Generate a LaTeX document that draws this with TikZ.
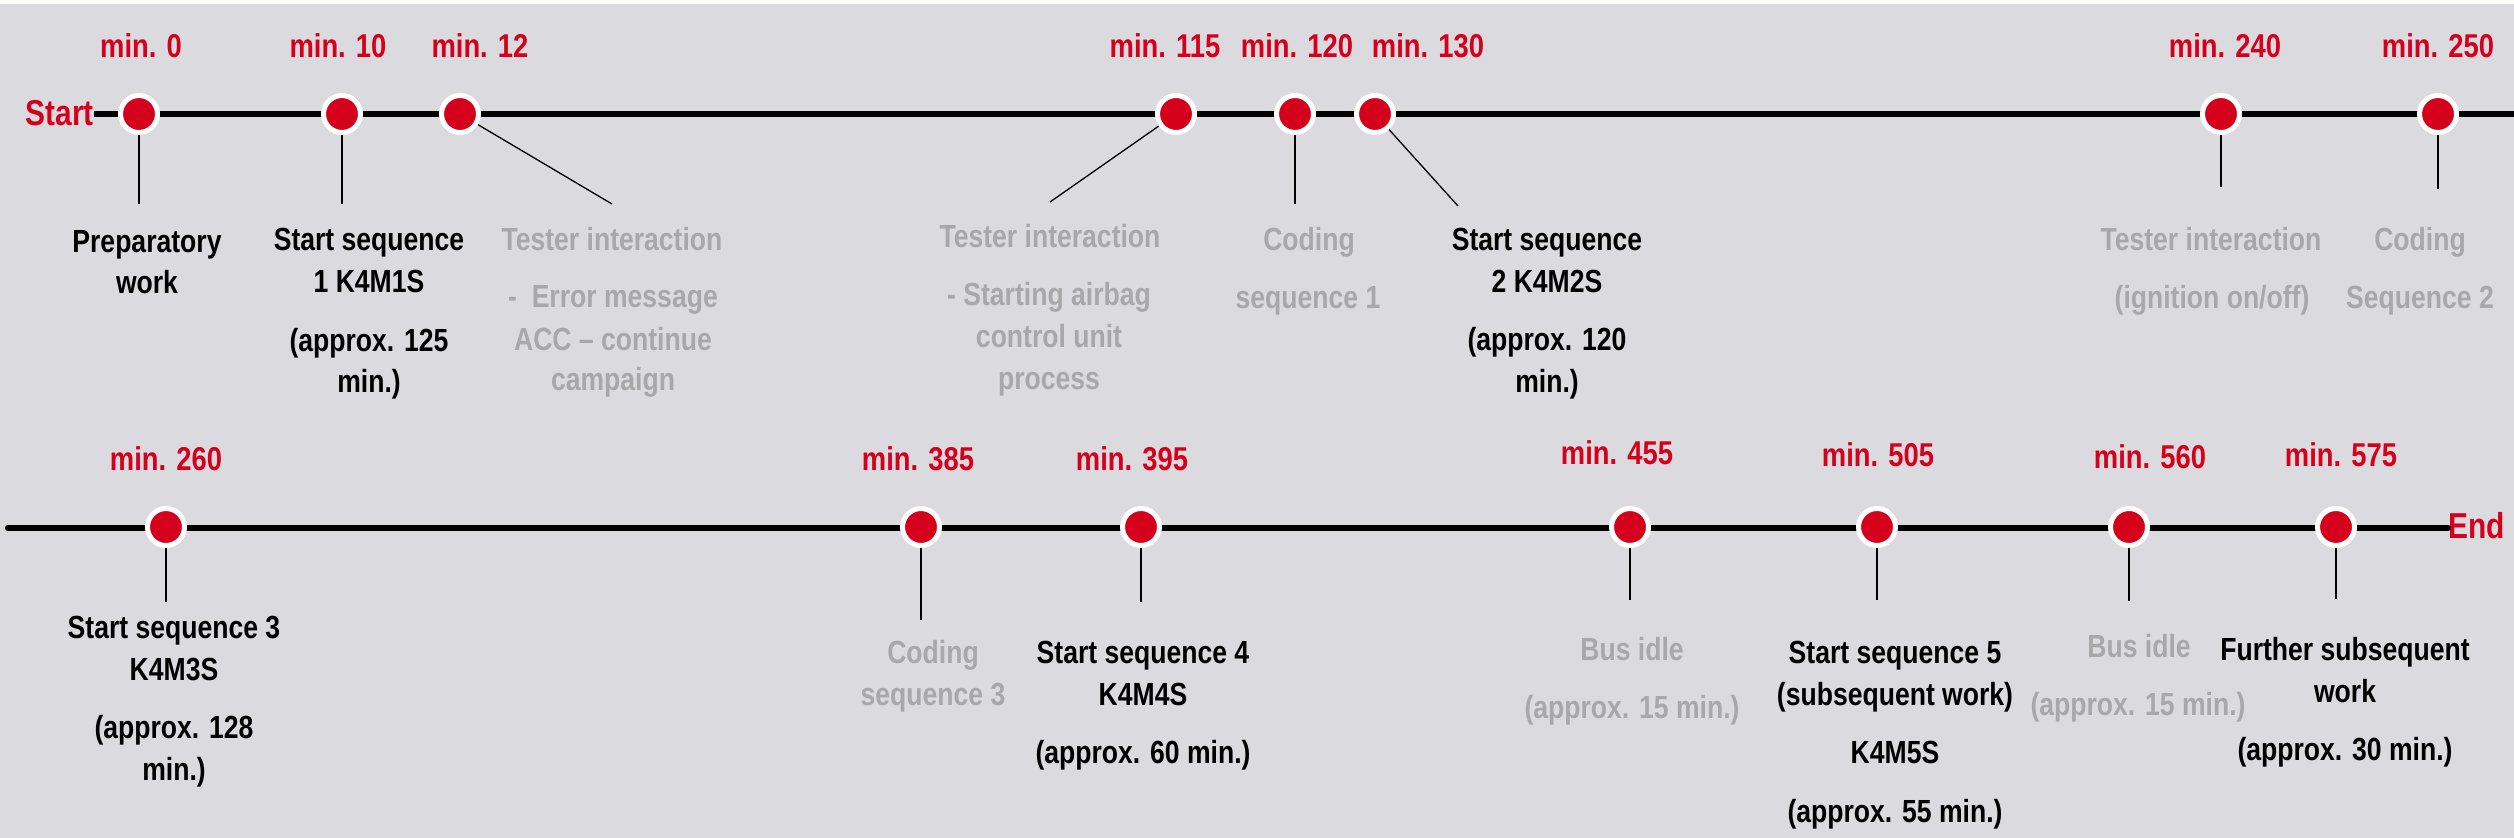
\documentclass[tikz,border=0pt]{standalone}
\usepackage{fontspec}
\setmainfont{Liberation Sans}[FakeStretch=0.83]
\definecolor{pred}{HTML}{D5001C}
\definecolor{pgray}{HTML}{A8A8AA}
\definecolor{pbg}{HTML}{DADADF}
\tikzset{
 tl/.style={line width=6pt, black},
 dot/.style={circle, fill=pred, draw=white, line width=5pt, minimum size=37pt, inner sep=0pt},
 conn/.style={line width=1.3pt, black},
 minl/.style={font=\fontsize{33}{36}\selectfont\bfseries, text=pred, anchor=base, inner sep=0pt},
 edge/.style={font=\fontsize{36}{40}\selectfont\bfseries, text=pred, inner sep=0pt},
 blk/.style={font=\fontsize{32}{42}\selectfont\bfseries, text=black, anchor=base, inner sep=0pt},
 gry/.style={font=\fontsize{32}{42}\selectfont\bfseries, text=pgray, anchor=base, inner sep=0pt},
}
\begin{document}
\begin{tikzpicture}[x=1pt,y=-1pt]
\fill[white] (0,0) rectangle (2514,838);
\fill[pbg] (0,4) rectangle (2514,838);
\useasboundingbox (0,0) rectangle (2514,838);

% ---------- top row ----------
\node[edge, anchor=base east] (start) at (94,125) {Start};
\coordinate (topend) at (2514,114);
\draw[tl] (start.east |- topend) -- (topend);

\node[dot] (t0) at (139,114) {};
\node[dot] (t10) at (342,114) {};
\node[dot] (t12) at (460,114) {};
\node[dot] (t115) at (1176,114) {};
\node[dot] (t120) at (1295,114) {};
\node[dot] (t130) at (1375,114) {};
\node[dot] (t240) at (2221,114) {};
\node[dot] (t250) at (2438,114) {};

\coordinate (c0) at (139,204);
\coordinate (c10) at (342,204);
\coordinate (c12) at (612,204);
\coordinate (c115) at (1050,202);
\coordinate (c120) at (1295,204);
\coordinate (c130) at (1458,206);
\coordinate (c240) at (2221,187);
\coordinate (c250) at (2438,189);
\draw[conn] (t0) -- (c0);
\draw[conn] (t10) -- (c10);
\draw[conn] (t12) -- (c12);
\draw[conn] (t115) -- (c115);
\draw[conn] (t120) -- (c120);
\draw[conn] (t130) -- (c130);
\draw[conn] (t240) -- (c240);
\draw[conn] (t250) -- (c250);

\node[minl] (m0) at (141,57) {min. 0};
\node[minl] (m10) at (338,57) {min. 10};
\node[minl] (m12) at (480,57) {min. 12};
\node[minl] (m115) at (1165,57) {min. 115};
\node[minl] (m120) at (1297,57) {min. 120};
\node[minl] (m130) at (1428,57) {min. 130};
\node[minl] (m240) at (2225,57) {min. 240};
\node[minl] (m250) at (2438,57) {min. 250};

\node[blk] (prepa) at (147,252) {Preparatory};
\node[blk] (prepb) at (147,293) {work};
\node[blk] (sa1) at (369,250) {Start sequence};
\node[blk] (sb1) at (369,292) {1 K4M1S};
\node[blk] (sc1) at (369,351) {(approx. 125};
\node[blk] (sd1) at (369,392) {min.)};
\node[gry] (tia1) at (612,250) {Tester interaction};
\node[gry] (tib1) at (613,307) {-\ \ Error message};
\node[gry] (tic1) at (613,350) {ACC – continue};
\node[gry] (tid1) at (613,390) {campaign};
\node[gry] (tia2) at (1050,247) {Tester interaction};
\node[gry] (tib2) at (1049,305) {- Starting airbag};
\node[gry] (tic2) at (1049,347) {control unit};
\node[gry] (tid2) at (1049,389) {process};
\node[gry] (csa1) at (1309,250) {Coding};
\node[gry] (csb1) at (1308,308) {sequence 1};
\node[blk] (sa2) at (1547,250) {Start sequence};
\node[blk] (sb2) at (1547,292) {2 K4M2S};
\node[blk] (sc2) at (1547,350) {(approx. 120};
\node[blk] (sd2) at (1547,392) {min.)};
\node[gry] (tia3) at (2211,250) {Tester interaction};
\node[gry] (tib3) at (2212,308) {(ignition on/off)};
\node[gry] (csa2) at (2420,250) {Coding};
\node[gry] (csb2) at (2420,308) {Sequence 2};

% ---------- bottom row ----------
\node[edge, anchor=base west] (endlbl) at (2448,538) {End};
\coordinate (botstart) at (8,528);
\draw[tl, line cap=round] (botstart) -- (endlbl.west |- botstart);

\node[dot] (b260) at (166,527) {};
\node[dot] (b385) at (921,527) {};
\node[dot] (b395) at (1141,527) {};
\node[dot] (b455) at (1630,527) {};
\node[dot] (b505) at (1877,527) {};
\node[dot] (b560) at (2129,527) {};
\node[dot] (b575) at (2336,527) {};

\coordinate (d260) at (166,602);
\coordinate (d385) at (921,620);
\coordinate (d395) at (1141,602);
\coordinate (d455) at (1630,600);
\coordinate (d505) at (1877,600);
\coordinate (d560) at (2129,601);
\coordinate (d575) at (2336,599);
\draw[conn] (b260) -- (d260);
\draw[conn] (b385) -- (d385);
\draw[conn] (b395) -- (d395);
\draw[conn] (b455) -- (d455);
\draw[conn] (b505) -- (d505);
\draw[conn] (b560) -- (d560);
\draw[conn] (b575) -- (d575);

\node[minl] (m260) at (166,470) {min. 260};
\node[minl] (m385) at (918,470) {min. 385};
\node[minl] (m395) at (1132,470) {min. 395};
\node[minl] (m455) at (1617,464) {min. 455};
\node[minl] (m505) at (1878,466) {min. 505};
\node[minl] (m560) at (2150,468) {min. 560};
\node[minl] (m575) at (2341,466) {min. 575};

\node[blk] (sa3) at (174,638) {Start sequence 3};
\node[blk] (sb3) at (174,680) {K4M3S};
\node[blk] (sc3) at (174,738) {(approx. 128};
\node[blk] (sd3) at (174,780) {min.)};
\node[gry] (csa3) at (933,663) {Coding};
\node[gry] (csb3) at (933,705) {sequence 3};
\node[blk] (sa4) at (1143,663) {Start sequence 4};
\node[blk] (sb4) at (1143,705) {K4M4S};
\node[blk] (sc4) at (1143,763) {(approx. 60 min.)};
\node[gry] (bia1) at (1632,660) {Bus idle};
\node[gry] (bib1) at (1632,718) {(approx. 15 min.)};
\node[blk] (sa5) at (1895,663) {Start sequence 5};
\node[blk] (sb5) at (1895,705) {(subsequent work)};
\node[blk] (sc5) at (1895,763) {K4M5S};
\node[blk] (sd5) at (1895,822) {(approx. 55 min.)};
\node[gry] (bia2) at (2139,657) {Bus idle};
\node[gry] (bib2) at (2138,715) {(approx. 15 min.)};
\node[blk] (fwa) at (2345,660) {Further subsequent};
\node[blk] (fwb) at (2345,702) {work};
\node[blk] (fwc) at (2345,760) {(approx. 30 min.)};
\end{tikzpicture}
\end{document}
